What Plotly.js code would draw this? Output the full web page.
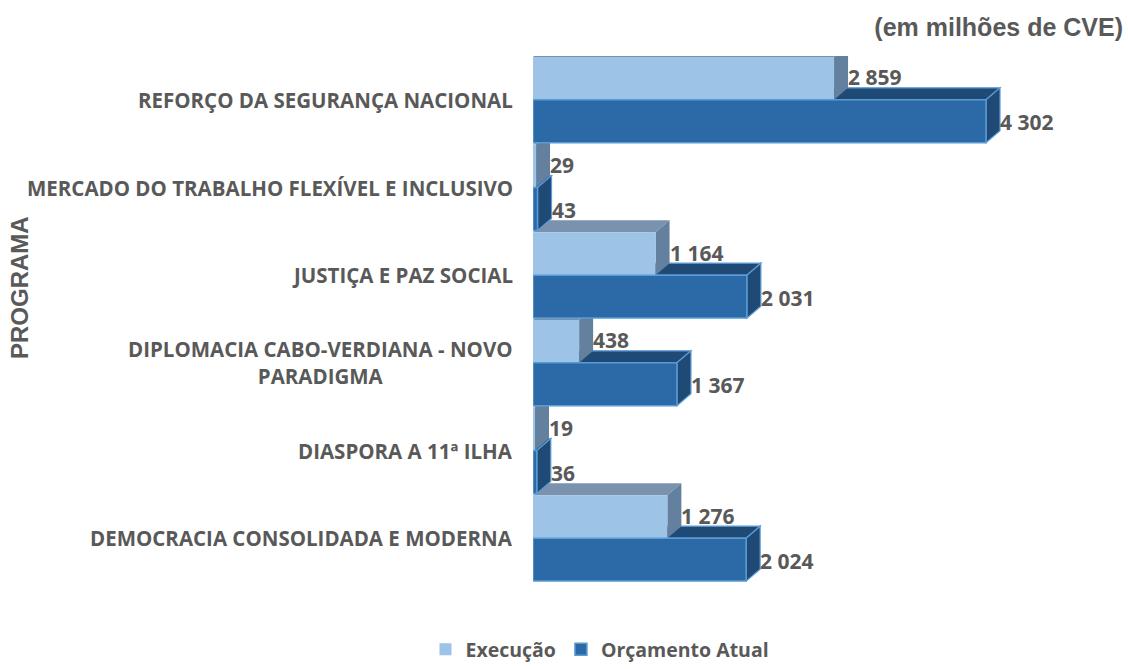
<!DOCTYPE html>
<html>
<head>
<meta charset="utf-8">
<script src="https://cdn.plot.ly/plotly-3.0.1.min.js"></script>
<style>
  html, body { margin: 0; padding: 0; background: #ffffff; }
  #chart { width: 1128px; height: 669px; }
</style>
</head>
<body>
<div id="chart"></div>
<script>
// ---- data ----
const categories = [
  "REFORÇO DA SEGURANÇA NACIONAL",
  "MERCADO DO TRABALHO FLEXÍVEL E INCLUSIVO",
  "JUSTIÇA E PAZ SOCIAL",
  "DIPLOMACIA CABO-VERDIANA - NOVO<br>PARADIGMA",
  "DIASPORA A 11ª ILHA",
  "DEMOCRACIA CONSOLIDADA E MODERNA"
];
const execucao  = [2859, 29, 1164, 438, 19, 1276];
const orcamento = [4302, 43, 2031, 1367, 36, 2024];
const seriesNames = ["Execução", "Orçamento Atual"];
const chartTitle = "(em milhões de CVE)";
const axisTitle = "PROGRAMA";

// ---- style ----
const W = 1128, H = 669;
const M = { l: 533, r: 5, t: 56, b: 87 };
const XMAX = 5603;
const plotW = W - M.l - M.r, plotH = H - M.t - M.b;
const pxPerX = plotW / XMAX;
const pxPerY = plotH / categories.length;
const DX = 14 / pxPerX;     // 3D depth, x (data units)
const DY = 12 / pxPerY;     // 3D depth, y (category units)
const BW = 0.49;            // bar thickness
const txtColor = "#595959";
const lightFront = "#9DC3E6", lightTop = "#7A92AD", lightSide = "#63809E";
const darkFront = "#2B6AA6", darkFace = "#1F4A76", darkEdge = "#5B9BD5";
const calibri = "Open Sans, Noto Sans, sans-serif";
const arial = "Liberation Sans, Arial, sans-serif";

const pos = categories.map((_, i) => i);
const fmt = v => String(v).replace(/\B(?=(\d{3})+(?!\d))/g, " ");

const traces = [
  { type: "bar", orientation: "h", name: seriesNames[0], y: pos, x: execucao,
    width: BW, offset: -BW, marker: { color: lightFront, line: { width: 0 } }, hoverinfo: "skip" },
  { type: "bar", orientation: "h", name: seriesNames[1], y: pos, x: orcamento,
    width: BW, offset: 0, marker: { color: darkFront, line: { color: darkEdge, width: 1.5 } }, hoverinfo: "skip" }
];

function poly(pts) {
  return "M" + pts.map(p => p[0] + "," + p[1]).join(" L") + " Z";
}
const darkTops = [], lightTops = [], lightSides = [], darkSides = [];
pos.forEach(i => {
  const v1 = execucao[i], v2 = orcamento[i];
  const t1 = i - BW, b1 = i;       // light bar edges
  const t2 = i, b2 = i + BW;       // dark bar edges
  lightTops.push({ type: "path", xref: "x", yref: "y", layer: "below",
    path: poly([[0, t1], [DX, t1 - DY], [v1 + DX, t1 - DY], [v1, t1]]),
    fillcolor: lightTop, line: { width: 0 } });
  lightSides.push({ type: "path", xref: "x", yref: "y", layer: "below",
    path: poly([[v1, t1], [v1 + DX, t1 - DY], [v1 + DX, b1 - DY], [v1, b1]]),
    fillcolor: lightSide, line: { width: 0 } });
  darkTops.push({ type: "path", xref: "x", yref: "y", layer: "below",
    path: poly([[0, t2], [DX, t2 - DY], [v2 + DX, t2 - DY], [v2, t2]]),
    fillcolor: darkFace, line: { color: darkEdge, width: 1.2 } });
  darkSides.push({ type: "path", xref: "x", yref: "y", layer: "below",
    path: poly([[v2, t2], [v2 + DX, t2 - DY], [v2 + DX, b2 - DY], [v2, b2]]),
    fillcolor: darkFace, line: { color: darkEdge, width: 1.2 } });
});
const shapes = [].concat(darkTops, lightTops, lightSides, darkSides);

const valFont = { family: calibri, size: 21, color: txtColor, weight: 700 };
const annotations = [];
pos.forEach(i => {
  annotations.push({ xref: "x", yref: "y", x: execucao[i] + DX, y: i - BW / 2,
    text: fmt(execucao[i]), showarrow: false, xanchor: "left", yanchor: "middle", xshift: -2, yshift: 1,
    font: valFont });
  annotations.push({ xref: "x", yref: "y", x: orcamento[i] + DX, y: i + BW / 2,
    text: fmt(orcamento[i]), showarrow: false, xanchor: "left", yanchor: "middle", xshift: -2, yshift: -1,
    font: valFont });
  annotations.push({ xref: "x", yref: "y", x: 0, y: i, text: categories[i],
    showarrow: false, xanchor: "right", yanchor: "middle", align: "center", xshift: -18,
    font: { family: calibri, size: 20.5, color: txtColor, weight: 700 } });
});
annotations.push({ xref: "paper", yref: "paper", x: 0, y: 0.5, xshift: 19 - M.l,
  yshift: (M.t + plotH / 2) - 288, text: axisTitle, textangle: -90, showarrow: false,
  xanchor: "center", yanchor: "middle",
  font: { family: arial, size: 24, color: txtColor, weight: 700 } });

const layout = {
  width: W, height: H,
  margin: M,
  paper_bgcolor: "#ffffff", plot_bgcolor: "#ffffff",
  title: { text: chartTitle, x: 1123 / W, xanchor: "right", y: 1 - 27 / H, yanchor: "middle",
    font: { family: arial, size: 25, color: txtColor, weight: 700 } },
  barmode: "overlay",
  xaxis: { range: [0, XMAX], visible: false, fixedrange: true },
  yaxis: { range: [categories.length - 0.5, -0.5], showticklabels: false, showgrid: false,
    zeroline: false, showline: false, ticks: "", fixedrange: true },
  showlegend: true,
  legend: { orientation: "h", xref: "container", yref: "container",
    x: 600 / W, xanchor: "center", y: -0.006, yanchor: "bottom",
    font: { family: calibri, size: 19.5, color: txtColor, weight: 700 },
    itemclick: false, itemdoubleclick: false, traceorder: "normal" },
  shapes: shapes,
  annotations: annotations,
  hovermode: false
};

Plotly.newPlot("chart", traces, layout, { displayModeBar: false, staticPlot: true });
</script>
</body>
</html>
